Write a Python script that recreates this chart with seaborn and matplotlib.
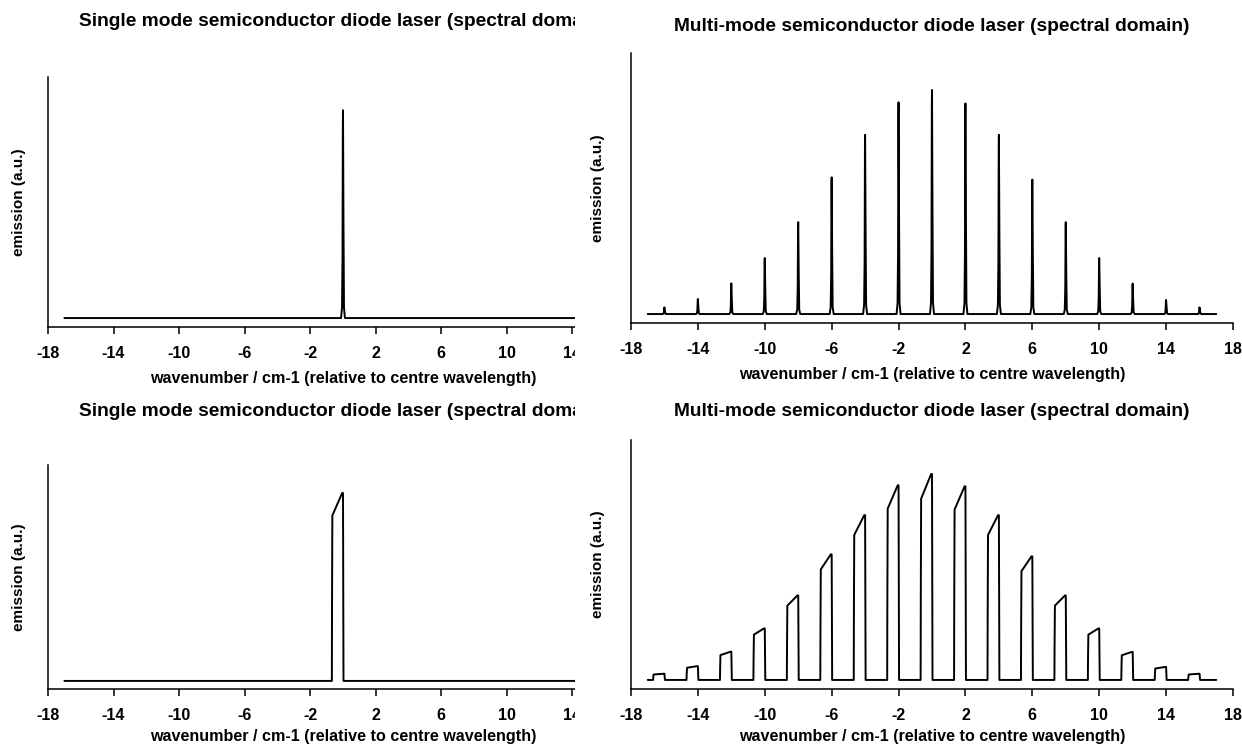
import matplotlib
matplotlib.use("Agg")
import pandas as pd
import matplotlib.pyplot as plt
from matplotlib.patches import Rectangle
import seaborn as sns

sns.set_style("ticks")
plt.rcParams["font.family"] = ["Liberation Sans", "DejaVu Sans"]
plt.rcParams["font.weight"] = "bold"
plt.rcParams["axes.labelweight"] = "bold"
plt.rcParams["axes.titleweight"] = "bold"
plt.rcParams["text.color"] = "black"
plt.rcParams["axes.labelcolor"] = "black"

# spectrum range (cm-1, relative to centre wavelength)
baseline_start = -17.0
baseline_end = 17.0
x_ticks = [-18, -14, -10, -6, -2, 2, 6, 10, 14, 18]

# single mode laser: one line at the centre
single_centres = [0.0]
single_heights = [1.0]

# multi-mode laser: longitudinal modes every 2 cm-1
multi_centres = [-16, -14, -12, -10, -8, -6, -4, -2, 0, 2, 4, 6, 8, 10, 12, 14, 16]
multi_heights = [0.03, 0.067, 0.137, 0.25, 0.41, 0.61, 0.80, 0.945, 1.0,
                 0.94, 0.80, 0.60, 0.41, 0.25, 0.136, 0.063, 0.03]

# line shapes (offset from mode centre, fraction of mode height)
narrow_offsets = [-0.12, -0.06, -0.03, -0.01, 0.0, 0.03, 0.06, 0.12]
narrow_levels = [0.0, 0.05, 0.29, 0.93, 1.0, 0.45, 0.05, 0.0]
broad_offsets = [-0.68, -0.67, -0.65, -0.05, 0.0, 0.03]
broad_levels = [0.0, 0.40, 0.88, 1.0, 1.0, 0.0]

TITLE_SINGLE = "Single mode semiconductor diode laser (spectral domain)"
TITLE_MULTI = "Multi-mode semiconductor diode laser (spectral domain)"
XLABEL = "wavenumber / cm-1 (relative to centre wavelength)"
YLABEL = "emission (a.u.)"

W, H = 1242, 746


def build_spectrum(centres, heights, offsets, levels) -> pd.DataFrame:
    xs, ys = [baseline_start], [0.0]
    for c, h in zip(centres, heights):
        for o, lv in zip(offsets, levels):
            xs.append(c + o)
            ys.append(h * lv)
    xs.append(baseline_end)
    ys.append(0.0)
    return pd.DataFrame({"wavenumber": xs, "emission": ys})


def add_panel(fig, box, df, title, title_pad, ylim, ylabelpad, xlabelpad, zorder):
    # box given in pixels: left, top, right, bottom
    l, t, r, b = box
    ax = fig.add_axes([l / W, (H - b) / H, (r - l) / W, (b - t) / H])
    ax.set_zorder(zorder)
    sns.lineplot(data=df, x="wavenumber", y="emission", sort=False,
                 estimator=None, color="black", linewidth=1.4, ax=ax)
    ax.set_xlim(-18, 18)
    ax.set_ylim(*ylim)
    ax.set_xticks(x_ticks)
    ax.set_xticklabels([str(v) for v in x_ticks])
    ax.set_yticks([])
    ax.tick_params(axis="x", direction="out", length=5, width=1.1,
                   pad=9, labelsize=11.5, colors="black")
    sns.despine(ax=ax)
    for side in ["left", "bottom"]:
        ax.spines[side].set_color("black")
        ax.spines[side].set_linewidth(1.1)
    ax.set_title(title, fontsize=13.8, pad=title_pad)
    ax.set_xlabel(XLABEL, fontsize=11.6, labelpad=xlabelpad)
    ax.set_ylabel(YLABEL, fontsize=11, labelpad=ylabelpad)
    return ax


def main() -> None:
    fig = plt.figure(figsize=(W / 100, H / 100), dpi=100)

    single_top = build_spectrum(single_centres, single_heights, narrow_offsets, narrow_levels)
    multi_top = build_spectrum(multi_centres, multi_heights, narrow_offsets, narrow_levels)
    single_bot = build_spectrum(single_centres, single_heights, broad_offsets, broad_levels)
    multi_bot = build_spectrum(multi_centres, multi_heights, broad_offsets, broad_levels)

    left_axes = [
        add_panel(fig, (48, 77, 638, 327), single_top, TITLE_SINGLE, 37, (-0.043, 1.16), 16, 7, 0),
        add_panel(fig, (48, 465, 638, 689), single_bot, TITLE_SINGLE, 35, (-0.043, 1.149), 16, 4, 0),
    ]
    # the "18" of the left charts lies under the right charts anyway
    for ax in left_axes:
        ax.get_xticklabels()[-1].set_visible(False)

    # the left charts are cut off by the right ones
    fig.add_artist(Rectangle((575 / W, 0), 1, 1, transform=fig.transFigure,
                             facecolor="white", edgecolor="none", zorder=1))

    add_panel(fig, (631, 53, 1233, 323), multi_top, TITLE_MULTI, 16, (-0.040, 1.165), 19, 7, 2)
    add_panel(fig, (631, 440, 1233, 689), multi_bot, TITLE_MULTI, 17, (-0.044, 1.165), 19, 4, 2)

    fig.savefig("out.png", dpi=100)


if __name__ == "__main__":
    main()
